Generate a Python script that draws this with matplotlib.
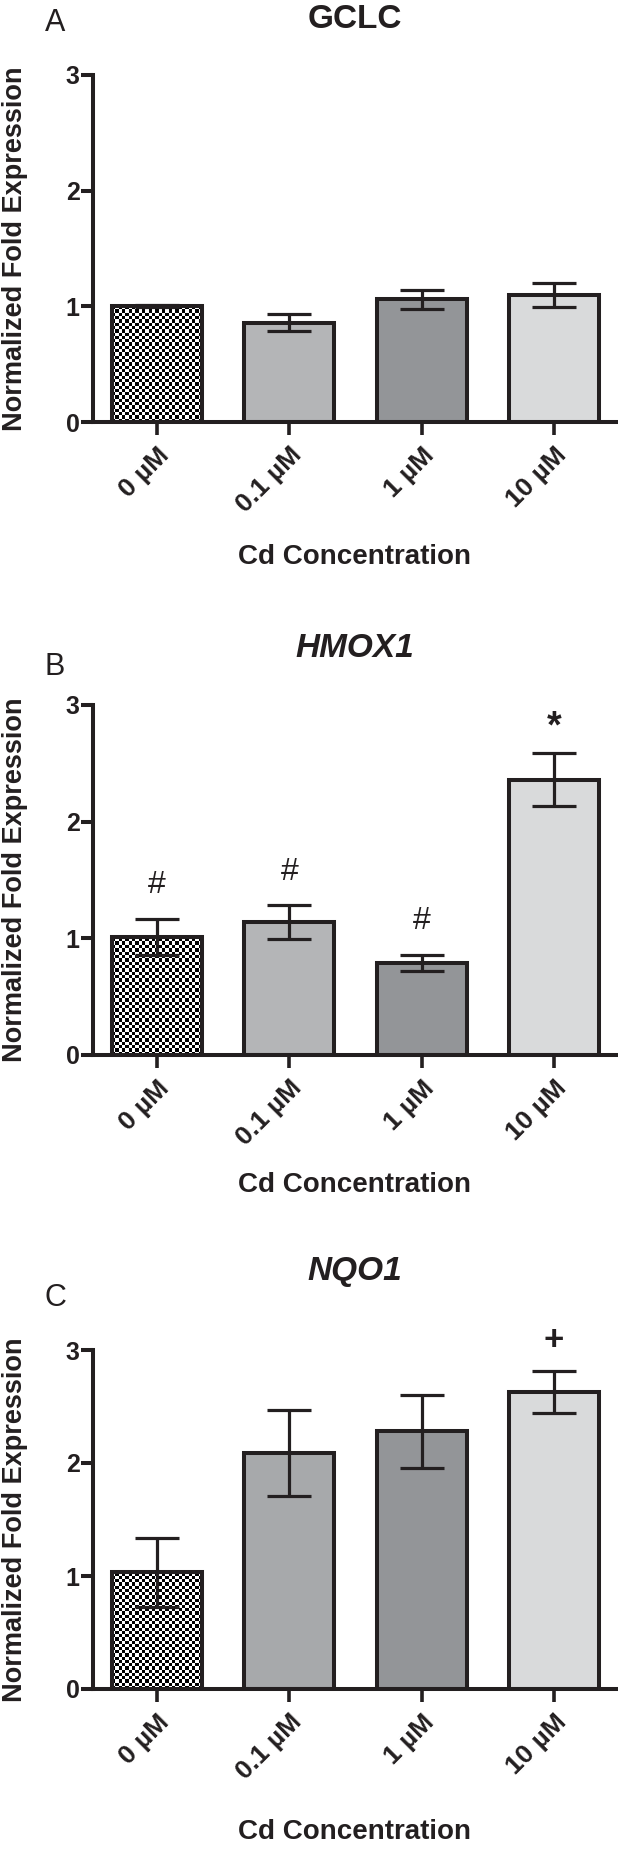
import numpy as np
import matplotlib
matplotlib.use("Agg")
import matplotlib.pyplot as plt

plt.rcParams["font.family"] = ["Liberation Sans", "DejaVu Sans"]

CONC = ["0 µM", "0.1 µM", "1 µM", "10 µM"]

GCLC_MEAN = [1.00, 0.86, 1.06, 1.10]
GCLC_SEM = [0.01, 0.076, 0.079, 0.105]

HMOX1_MEAN = [1.01, 1.14, 0.79, 2.36]
HMOX1_SEM = [0.155, 0.144, 0.07, 0.226]
HMOX1_MARKS = ["#", "#", "#", "*"]
HMOX1_MARK_Y = [1.455, 1.57, 1.15, 2.81]

NQO1_MEAN = [1.035, 2.09, 2.28, 2.63]
NQO1_SEM = [0.305, 0.38, 0.32, 0.185]
NQO1_MARKS = ["", "", "", "+"]
NQO1_MARK_Y = [0, 0, 0, 3.08]

W, H = 618, 1850
EDGE = "#231f20"

# pixel layout per panel: axes top/bottom, title y, letter y, xlabel y
PANELS = [
    dict(letter="A", gene="GCLC", italic=False, mean=GCLC_MEAN, sem=GCLC_SEM,
         marks=None, mark_y=None, top=75, bottom=422, title_y=28, letter_y=23,
         xlabel_y=557, colors=["none", "#b4b5b7", "#939598", "#d9dadb"]),
    dict(letter="B", gene="HMOX1", italic=True, mean=HMOX1_MEAN, sem=HMOX1_SEM,
         marks=HMOX1_MARKS, mark_y=HMOX1_MARK_Y, top=705, bottom=1055, title_y=657,
         letter_y=667, xlabel_y=1185, colors=["none", "#b4b5b7", "#939598", "#d9dadb"]),
    dict(letter="C", gene="NQO1", italic=True, mean=NQO1_MEAN, sem=NQO1_SEM,
         marks=NQO1_MARKS, mark_y=NQO1_MARK_Y, top=1350, bottom=1689, title_y=1280,
         letter_y=1298, xlabel_y=1832, colors=["none", "#a7a9ab", "#939598", "#d9dadb"]),
]

LEFT, RIGHT = 93, 616

fig = plt.figure(figsize=(W / 100, H / 100), dpi=100)

for p in PANELS:
    ax = fig.add_axes([LEFT / W, 1 - p["bottom"] / H, (RIGHT - LEFT) / W,
                       (p["bottom"] - p["top"]) / H])
    x = np.arange(len(CONC))
    bars = ax.bar(x, p["mean"], width=0.68, color=p["colors"], edgecolor=EDGE,
                  linewidth=2.9, zorder=2)
    ax.errorbar(x, p["mean"], yerr=p["sem"], fmt="none", ecolor=EDGE,
                elinewidth=2.3, capsize=16, capthick=2.3, zorder=3)

    # checkerboard fill for the control bar
    b0 = bars[0]
    nx, ny = 27, 105
    board = (np.add.outer(np.arange(ny), np.arange(nx)) % 2).astype(float)
    im = ax.imshow(board, cmap="gray", interpolation="nearest", aspect="auto",
                   extent=(b0.get_x(), b0.get_x() + b0.get_width(), 0, 3), zorder=1)
    im.set_clip_path(b0)

    if p["marks"]:
        for xi, m, my in zip(x, p["marks"], p["mark_y"]):
            if not m:
                continue
            if m == "#":
                ax.text(xi, my, m, ha="center", va="center", fontsize=23,
                        color=EDGE, clip_on=False)
            elif m == "*":
                ax.text(xi, my, m, ha="center", va="center", fontsize=27,
                        fontweight="bold", color=EDGE, clip_on=False)
            else:
                ax.text(xi, my, m, ha="center", va="center", fontsize=25,
                        fontweight="heavy", color=EDGE, clip_on=False)

    ax.set_xlim(-0.485, 3.47)
    ax.set_ylim(0, 3)
    ax.set_yticks([0, 1, 2, 3])
    ax.set_xticks(x)
    ax.set_xticklabels(CONC, rotation=45, ha="right", rotation_mode="anchor",
                       fontsize=19, fontweight="bold", color=EDGE)
    for lab in ax.get_yticklabels():
        lab.set_fontsize(18)
        lab.set_fontweight("bold")
        lab.set_color(EDGE)
    ax.tick_params(axis="y", length=8.5, width=2.9, pad=1, color=EDGE)
    ax.tick_params(axis="x", length=9, width=2.6, pad=6, color=EDGE)
    for s in ["top", "right"]:
        ax.spines[s].set_visible(False)
    for s in ["left", "bottom"]:
        ax.spines[s].set_linewidth(2.9)
        ax.spines[s].set_color(EDGE)

    hpx = p["bottom"] - p["top"]
    ax.set_title(p["gene"], y=1 + (p["top"] - p["title_y"]) / hpx, va="center",
                 fontsize=24, fontweight="bold",
                 fontstyle="italic" if p["italic"] else "normal", color=EDGE)
    ax.set_xlabel("Cd Concentration", fontsize=20, fontweight="bold", color=EDGE,
                  va="center")
    ax.xaxis.set_label_coords(0.5, -(p["xlabel_y"] - p["bottom"]) / hpx)
    ax.set_ylabel("Normalized Fold Expression", fontsize=19.5, fontweight="bold",
                  color=EDGE, va="center")
    ax.yaxis.set_label_coords(-(LEFT - 15) / (RIGHT - LEFT), 0.5)

    fig.text(55 / W, 1 - p["letter_y"] / H, p["letter"], ha="center", va="center",
             fontsize=22, family=["Liberation Sans Narrow", "Liberation Sans"],
             color=EDGE)

fig.savefig("out.png", dpi=100, facecolor="white")
